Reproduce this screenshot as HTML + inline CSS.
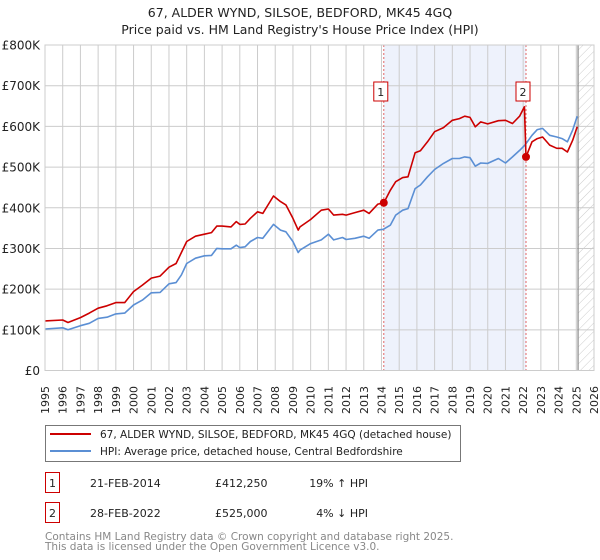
<!DOCTYPE html>
<html><head><meta charset="utf-8"><style>
body{margin:0;background:#fff;font-family:"Liberation Sans","DejaVu Sans",sans-serif;}
#wrap{position:relative;width:600px;height:560px;overflow:hidden;}
svg text{font-family:"DejaVu Sans","Liberation Sans",sans-serif;}
</style></head><body>
<div id="wrap">
<svg id="chart" width="600" height="560"></svg>
</div>
<script>
const hpiYears=[1995,1996,1996.3,1997,1997.5,1998,1998.5,1999,1999.5,2000,2000.5,2001,2001.5,2002,2002.4,2002.7,2003,2003.5,2004,2004.4,2004.7,2005,2005.5,2005.8,2006,2006.3,2006.6,2007,2007.3,2007.9,2008.3,2008.6,2009,2009.3,2009.4,2010,2010.6,2011,2011.3,2011.8,2012,2012.5,2013,2013.3,2013.8,2014.1,2014.5,2014.8,2015.2,2015.5,2015.9,2016.2,2016.6,2017,2017.5,2018,2018.4,2018.7,2019,2019.3,2019.6,2020,2020.6,2021,2021.4,2021.8,2022.1,2022.5,2022.8,2023.1,2023.5,2023.9,2024.2,2024.5,2024.8,2025.05];
const hpiValues=[102,105,100,110,116,128,131,139,141,161,173,191,192,213,216,235,263,276,282,283,300,299,299,308,302,304,317,327,325,359,345,341,317,290,296,312,321,335,321,327,322,325,330,325,345,347,357,382,394,398,447,456,476,494,509,521,521,525,523,502,510,509,521,510,525,541,554,578,592,595,578,574,570,562,591,625];
const priceYears=[1995,1996,1996.3,1997,1997.5,1998,1998.5,1999,1999.5,2000,2000.5,2001,2001.5,2002,2002.4,2002.7,2003,2003.5,2004,2004.4,2004.7,2005,2005.5,2005.8,2006,2006.3,2006.6,2007,2007.3,2007.9,2008.3,2008.6,2009,2009.3,2009.4,2010,2010.6,2011,2011.3,2011.8,2012,2012.5,2013,2013.3,2013.8,2014.13,2014.5,2014.8,2015.2,2015.5,2015.9,2016.2,2016.6,2017,2017.5,2018,2018.4,2018.7,2019,2019.3,2019.6,2020,2020.6,2021,2021.4,2021.8,2022.07,2022.16,2022.5,2022.8,2023.1,2023.5,2023.9,2024.2,2024.5,2024.8,2025.05];
const priceValues=[122,124,118,130,141,153,159,167,167,194,210,227,232,254,263,290,317,330,335,339,355,355,353,366,359,360,374,390,386,429,415,407,374,345,353,371,394,397,382,384,382,388,394,386,409,412,443,464,474,476,535,540,562,587,597,615,619,625,622,599,611,606,614,615,607,625,648,525,562,570,574,554,546,546,537,566,599];
const saleYears=[2014.13,2022.16];
const saleValues=[412.25,525];
const saleLabels=["1","2"];
const yTicks=[0,100,200,300,400,500,600,700,800];
const yTickLabels=["£0","£100K","£200K","£300K","£400K","£500K","£600K","£700K","£800K"];
const xTicks=[];for(let y=1995;y<=2026;y++)xTicks.push(y);

const X0=45,X1=594,Y0=370.5,Y1=45;
const xs=y=>X0+(y-1995)/(2026-1995)*(X1-X0);
const ys=v=>Y0-v/800*(Y0-Y1);
const NS="http://www.w3.org/2000/svg";
const svg=document.getElementById('chart');
function mk(tag,attrs,parent){const e=document.createElementNS(NS,tag);for(const k in attrs)e.setAttribute(k,attrs[k]);(parent||svg).appendChild(e);return e;}

const defs=mk('defs',{});
const pat=mk('pattern',{id:'hatch',width:'6',height:'6',patternUnits:'userSpaceOnUse',patternTransform:'rotate(45)'},defs);
mk('line',{x1:'0',y1:'0',x2:'0',y2:'6',stroke:'#cccccc','stroke-width':'1'},pat);

let t=mk('text',{x:300,y:17,'text-anchor':'middle','font-size':'12.5',fill:'#222'});t.textContent="67, ALDER WYND, SILSOE, BEDFORD, MK45 4GQ";

t=mk('text',{x:300,y:34,'text-anchor':'middle','font-size':'12.5',fill:'#222'});t.textContent="Price paid vs. HM Land Registry's House Price Index (HPI)";


// shaded region
let r=mk('rect',{x:xs(saleYears[0]),y:Y1,width:xs(saleYears[1])-xs(saleYears[0]),height:Y0-Y1,fill:'#eef2fc'});

// hatch
r=mk('rect',{x:xs(2025.1),y:Y1,width:X1-xs(2025.1),height:Y0-Y1,fill:'url(#hatch)'});


// grid
xTicks.forEach(y=>{const l=mk('line',{x1:xs(y),x2:xs(y),y1:Y1,y2:Y0,stroke:'#cccccc','stroke-width':'1'});

const tx=mk('text',{transform:`translate(${xs(y)+4},414) rotate(-90)`,'font-size':'11',fill:'#222'});tx.textContent=y;
});
yTicks.forEach((v,i)=>{const l=mk('line',{x1:X0,x2:X1,y1:ys(v),y2:ys(v),stroke:'#cccccc','stroke-width':'1'});

const tx=mk('text',{x:40,y:ys(v)+4.5,'text-anchor':'end','font-size':'12',fill:'#222'});tx.textContent=yTickLabels[i];
});

let l=mk('line',{x1:xs(2025.1),x2:xs(2025.1),y1:Y1,y2:Y0,stroke:'#888','stroke-width':'1.2'});


// sale verticals
saleYears.forEach((y,i)=>{const d=mk('line',{x1:xs(y),x2:xs(y),y1:Y1,y2:Y0,stroke:'#e06666','stroke-width':'1','stroke-dasharray':'2,2'});
});

function path(xv,yv){return xv.map((x,i)=>(i?'L':'M')+xs(x).toFixed(1)+','+ys(yv[i]).toFixed(1)).join(' ');}
let p=mk('path',{d:path(hpiYears,hpiValues),fill:'none',stroke:'#5b8fd4','stroke-width':'1.6','stroke-linejoin':'round'});

p=mk('path',{d:path(priceYears,priceValues),fill:'none',stroke:'#cc0000','stroke-width':'1.6','stroke-linejoin':'round'});


saleYears.forEach((y,i)=>{const c=mk('circle',{cx:xs(y),cy:ys(saleValues[i]),r:4,fill:'#cc0000'});

const g=mk('g',{});
mk('rect',{x:xs(y)-10,y:82,width:14,height:19,fill:'#fff',stroke:'#cc0000','stroke-width':'1'},g);
const tx=mk('text',{x:xs(y)-3,y:96,'text-anchor':'middle','font-size':'11',fill:'#222'},g);tx.textContent=saleLabels[i];});

mk('rect',{x:X0,y:Y1,width:X1-X0,height:Y0-Y1,fill:'none',stroke:'#cccccc','stroke-width':'1'});

// legend
const lg=mk('g',{});
mk('rect',{x:45.5,y:425.5,width:415,height:36,fill:'#fff',stroke:'#777','stroke-width':'1'},lg);
mk('line',{x1:50,x2:91,y1:434,y2:434,stroke:'#cc0000','stroke-width':'2'},lg);
mk('line',{x1:50,x2:91,y1:451,y2:451,stroke:'#5b8fd4','stroke-width':'2'},lg);
t=mk('text',{x:100,y:438,'font-size':'10.5',fill:'#222'},lg);t.textContent="67, ALDER WYND, SILSOE, BEDFORD, MK45 4GQ (detached house)";

t=mk('text',{x:100,y:455,'font-size':'10.5',fill:'#222'},lg);t.textContent="HPI: Average price, detached house, Central Bedfordshire";


// table
const rows=[["1","21-FEB-2014","£412,250","19% ↑ HPI"],["2","28-FEB-2022","£525,000","4% ↓ HPI"]];
rows.forEach((rw,i)=>{const yy=483+i*30;const g=mk('g',{});
mk('rect',{x:45.5,y:yy-10.5,width:14,height:20,fill:'#fff',stroke:'#cc0000','stroke-width':'1'},g);
let a=mk('text',{x:52.5,y:yy+4,'text-anchor':'middle','font-size':'11',fill:'#222'},g);a.textContent=rw[0];
a=mk('text',{x:90,y:yy+4,'font-size':'11',fill:'#222'},g);a.textContent=rw[1];
a=mk('text',{x:215,y:yy+4,'font-size':'11',fill:'#222'},g);a.textContent=rw[2];
a=mk('text',{x:368,y:yy+4,'text-anchor':'end','font-size':'11',fill:'#222'},g);a.textContent=rw[3];});

t=mk('text',{x:45,y:540,'font-size':'10.5',fill:'#888'});t.textContent="Contains HM Land Registry data © Crown copyright and database right 2025.";

t=mk('text',{x:45,y:550,'font-size':'10.5',fill:'#888'});t.textContent="This data is licensed under the Open Government Licence v3.0.";

</script>
</body></html>
